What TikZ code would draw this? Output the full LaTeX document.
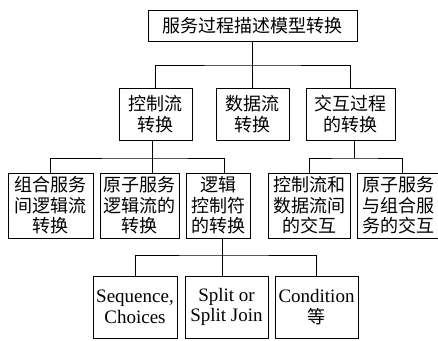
\documentclass[tikz,border=0pt]{standalone}
\usepackage{fontspec}
\setmainfont{Liberation Serif}
\newfontfamily\cjk{Noto Sans CJK SC}
\begin{document}
\begin{tikzpicture}[x=1pt,y=1pt,
  box/.style={draw,line width=0.9pt,inner sep=0pt,align=center,font=\fontsize{18}{20.5}\selectfont},
  lbox/.style={box,font=\fontsize{19}{20.5}\selectfont},
  conn/.style={line width=0.9pt}]
\useasboundingbox (0,0) rectangle (438,-340);
% level 1
\node[box,minimum width=209,minimum height=31] (top) at (252.5,-25.5) {\cjk 服务过程描述模型转换};
% level 2
\node[box,minimum width=73,minimum height=52] (c1) at (155.5,-114) {\cjk 控制流\\\cjk 转换};
\node[box,minimum width=73,minimum height=52] (c2) at (252.5,-114) {\cjk 数据流\\\cjk 转换};
\node[box,minimum width=89,minimum height=52] (c3) at (350.5,-114) {\cjk 交互过程\\\cjk 的转换};
% level 3
\node[box,minimum width=85,minimum height=65] (d1) at (50.5,-205.5) {\cjk 组合服务\\\cjk 间逻辑流\\\cjk 转换};
\node[box,minimum width=79,minimum height=65] (d2) at (139.5,-205.5) {\cjk 原子服务\\\cjk 逻辑流的\\\cjk 转换};
\node[box,minimum width=64,minimum height=65] (d3) at (218,-205.5) {\cjk 逻辑\\\cjk 控制符\\\cjk 的转换};
\node[box,minimum width=82,minimum height=65] (d4) at (309,-205.5) {\cjk 控制流和\\\cjk 数据流间\\\cjk 的交互};
\node[box,minimum width=82,minimum height=65] (d5) at (398,-205.5) {\cjk 原子服务\\\cjk 与组合服\\\cjk 务的交互};
% level 4
\node[lbox,minimum width=84,minimum height=62] (e1) at (135,-307) {Sequence,\\Choices};
\node[lbox,minimum width=83,minimum height=62] (e2) at (226.5,-307) {Split or\\Split Join};
\node[lbox,minimum width=83,minimum height=62] (e3) at (316.5,-307) {Condition\\{\cjk\fontsize{18}{20.5}\selectfont 等}};
% connectors level 1-2
\coordinate (b1) at (252.5,-65);
\draw[conn] (top.south) -- (c2.north);
\draw[conn] (c1.north) |- (b1) -| (c3.north);
% connectors level 2-3 (left)
\coordinate (b2) at (152,-158);
\draw[conn] (b2 |- c1.south) -- (b2 |- d2.north);
\draw[conn] (d1.north) |- (b2) -| ([xshift=6pt]d3.north);
% connectors level 2-3 (right)
\coordinate (b3) at (354,-158);
\draw[conn] (b3 |- c3.south) -- (b3);
\draw[conn] (d4.north) |- (b3) -| ([xshift=4pt]d5.north);
% connectors level 3-4
\coordinate (b4) at (222,-255);
\draw[conn] (b4 |- d3.south) -- (b4 |- e2.north);
\draw[conn] (e1.north) |- (b4) -| (e3.north);
\end{tikzpicture}
\end{document}
